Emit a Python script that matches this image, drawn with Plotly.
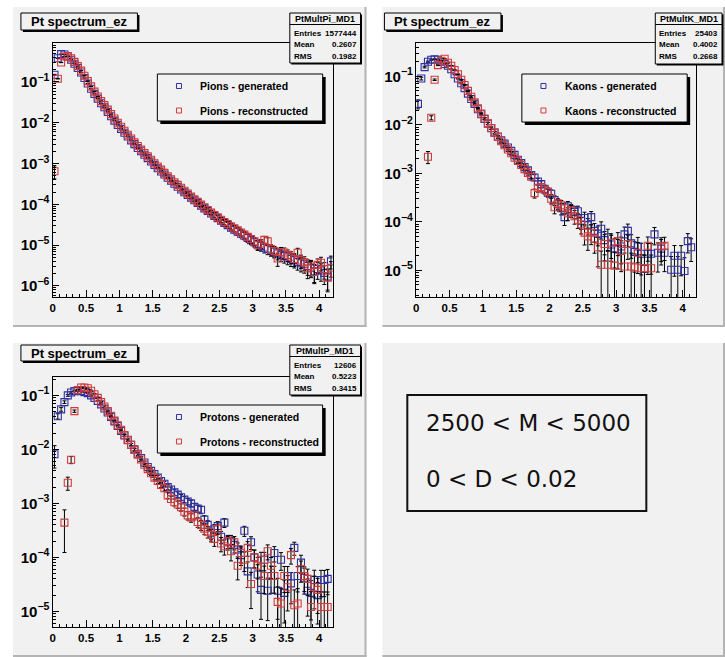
import plotly.graph_objects as go

W, H = 725, 657

# ---------------- data ----------------
BIN_LOW, BIN_WIDTH, N_BINS = 0.0, 0.05, 84
pt = [round(BIN_LOW + BIN_WIDTH * (i + 0.5), 4) for i in range(N_BINS)]

pions_gen = [0.15, 0.38, 0.48, 0.47, 0.42, 0.35, 0.28, 0.22, 0.17, 0.125,
             0.092, 0.068, 0.051, 0.039, 0.030, 0.024, 0.0185, 0.0145, 0.0113, 0.0089,
             0.0071, 0.0057, 0.0046, 0.0037, 0.0030, 0.0024, 0.0020, 0.00165, 0.00136, 0.00112,
             0.00093, 0.00077, 0.00064, 0.00054, 0.00045, 0.00038, 0.00032, 0.00027, 0.000232, 0.000198,
             0.000170, 0.000146, 0.000126, 0.000108, 0.000093, 0.000080, 0.000069, 0.000060, 0.000052, 0.000046,
             0.000040, 0.000035, 0.000031, 0.000027, 0.000024, 0.0000215, 0.0000190, 0.0000170, 0.0000150, 0.0000133,
             0.0000118, 0.0000106, 0.0000096, 0.0000088, 0.0000081, 0.0000075, 0.0000069, 0.0000063, 0.0000058, 0.0000054,
             0.0000050, 0.0000046, 0.0000043, 0.0000039, 0.0000036, 0.0000034, 0.0000031, 0.0000028, 0.0000023, 0.0000026,
             0.0000024, 0.0000021, 0.0000017, 0.0000040]
pions_rec = [0.00065, 0.12, 0.30, 0.42, 0.43, 0.38, 0.31, 0.245, 0.19, 0.142,
             0.105, 0.078, 0.058, 0.044, 0.034, 0.027, 0.021, 0.0163, 0.0127, 0.0100,
             0.0080, 0.0064, 0.0051, 0.0041, 0.0033, 0.0027, 0.0022, 0.00182, 0.00150, 0.00124,
             0.00102, 0.00085, 0.00071, 0.00059, 0.00049, 0.00041, 0.00035, 0.00030, 0.000255, 0.000215,
             0.000183, 0.000156, 0.000133, 0.000115, 0.000099, 0.000085, 0.000073, 0.000063, 0.000055, 0.000048,
             0.000042, 0.000037, 0.000033, 0.000029, 0.000026, 0.000023, 0.0000205, 0.0000182, 0.0000160, 0.0000142,
             0.0000125, 0.0000100, 0.0000110, 0.0000135, 0.0000125, 0.0000080, 0.0000072, 0.0000047, 0.0000068, 0.0000066,
             0.0000058, 0.0000052, 0.0000046, 0.0000065, 0.0000042, 0.0000038, 0.0000027, 0.0000030, 0.0000022, 0.0000033,
             0.0000037, 0.0000026, 0.0000016, 0.0000028]

kaons_gen = [0.027, 0.09, 0.155, 0.20, 0.22, 0.225, 0.22, 0.20, 0.18, 0.165,
             0.14, 0.11, 0.09, 0.072, 0.057, 0.044, 0.034, 0.027, 0.021, 0.0165,
             0.0132, 0.0106, 0.0085, 0.0069, 0.0057, 0.0048, 0.0041, 0.0034, 0.0029, 0.0024,
             0.0019, 0.00162, 0.00135, 0.00115, 0.00092, 0.00082, 0.00068, 0.00060, 0.00048, 0.00040,
             0.00038, 0.00028, 0.00023, 0.00019, 0.000125, 0.00021, 0.00018, 0.00016, 0.000165, 0.000105,
             0.00012, 0.000085, 0.000125, 0.000065, 0.000057, 0.000072, 0.000042, 0.000048, 0.000034, 0.000028,
             0.000027, 0.000031, 0.000055, 0.000065, 0.000036, 0.000024, 0.000031, 0.000022, 0.0000107, 0.000022,
             0.000022, 0.000055, 0.000023, 0.000028, 0.000023, None, 0.0000103, 0.00002, 0.0000103, 0.00002,
             0.0000097, 0.00004, 0.00003, None]
kaons_rec = [None, None, None, 0.0022, 0.014, 0.085, 0.17, 0.21, 0.23, 0.19,
             0.165, 0.135, 0.11, 0.085, 0.066, 0.05, 0.038, 0.029, 0.022, 0.017,
             0.0135, 0.0107, 0.0086, 0.0069, 0.0056, 0.0046, 0.0038, 0.0031, 0.0026, 0.0021,
             0.0018, 0.00148, 0.00122, 0.00102, 0.00085, 0.00039, 0.00050, 0.00052, 0.00046, 0.00042,
             0.00030, 0.00020, 0.00024, 0.00022, 0.00019, 0.00015, 0.00017, 0.00013, 0.00011, 0.000089,
             0.00006, 0.00005, 0.00006, 0.000045, 0.00003, 0.000013, 0.000035, 0.000013, 0.000037, 0.0000125,
             0.00004, 0.000025, 0.000012, 0.000035, 0.000012, 0.0000115, 0.000023, 0.000011, 0.000011, 0.000032,
             0.000011, None, None, 0.000031, 0.000032, None, None, None, None, None,
             None, None, None, None]

protons_gen = [0.0081, 0.041, 0.055, 0.075, 0.10, 0.113, 0.12, 0.124, 0.12, 0.115,
               0.11, 0.10, 0.09, 0.079, 0.068, 0.057, 0.048, 0.040, 0.033, 0.027,
               0.022, 0.018, 0.0148, 0.0122, 0.0100, 0.0083, 0.0069, 0.0057, 0.0047, 0.0040,
               0.0035, 0.0030, 0.0026, 0.0023, 0.0020, 0.0018, 0.0016, 0.00145, 0.0013, 0.00118,
               0.00108, 0.0010, 0.00086, 0.00080, 0.00076, 0.00050, 0.00040, 0.00028, 0.00033, 0.00038,
               0.00024, 0.00044, 0.00019, 0.00020, 0.00017, 0.00014, 0.00011, 0.00031, 0.000055, 0.00019,
               0.00010, 0.000048, 0.000025, 0.00009, 0.000024, 0.000045, 0.00012, 0.000024, 0.00009, 0.000022,
               0.000045, 0.000033, 0.00015, 0.000045, 0.00008, 0.000042, 0.000024, 0.000022, 0.000038, 0.00002,
               0.000038, 0.000038, 0.00004, None]
protons_rec = [None, None, None, 0.00044, 0.0024, 0.0064, 0.051, 0.125, 0.14, 0.14,
               0.135, 0.122, 0.105, 0.090, 0.075, 0.062, 0.051, 0.042, 0.034, 0.028,
               0.023, 0.0185, 0.015, 0.0122, 0.0098, 0.0080, 0.0065, 0.0052, 0.0043, 0.0036,
               0.0030, 0.0026, 0.0022, 0.0019, 0.0014, 0.0012, 0.00105, 0.00095, 0.00085, 0.00070,
               0.00060, 0.00055, 0.00060, 0.00045, 0.00040, 0.00034, 0.00030, 0.00026, 0.00022, 0.00034,
               0.00018, 0.00016, 0.00020, 0.00013, 0.00019, 0.00007, 0.00012, 0.00009, 0.00015, 0.000032,
               0.00010, 0.00007, 0.00009, 0.000045, 0.00013, 0.00007, 0.000045, 0.000015, 0.000014, 0.000045,
               0.000028, 0.00011, 0.000013, 0.000014, 0.00006, 0.000045, 0.00004, 0.000012, 0.000028, 0.000025,
               0.000012, 0.000012, 0.000012, None]

# per-count weight (1/pt weighted histograms) -> statistical errors
count_weight = {"pions": 2e-6, "kaons": 3e-5, "protons": 4e-5}

panels = [
    dict(key="pions", name="Pions", gen=pions_gen, rec=pions_rec,
         stats=("PtMultPi_MD1", "1577444", "0.2607", "0.1982")),
    dict(key="kaons", name="Kaons", gen=kaons_gen, rec=kaons_rec,
         stats=("PtMultK_MD1", "25403", "0.4002", "0.2668")),
    dict(key="protons", name="Protons", gen=protons_gen, rec=protons_rec,
         stats=("PtMultP_MD1", "12606", "0.5223", "0.3415")),
]
title_text = "Pt spectrum_ez"
cut_lines = ["2500 &lt; M &lt; 5000", "0 &lt; D &lt; 0.02"]

# ---------------- layout geometry (pixels) ----------------
frames = [  # x0, x1, y0(top), y1(bottom), log y range
    (50, 331, 43, 297, [-6.27, -0.045]),
    (415, 696, 43, 297, [-5.55, -0.313]),
    (50, 331, 377, 627, [-5.29, -0.66]),
]
pads = [(10, 365, 7, 327), (381, 725, 7, 327), (10, 365, 343, 657), (381, 725, 343, 657)]
titles = [(18, 135, 13, 30), (383, 500, 13, 30), (18, 135, 345, 361)]
statboxes = [(288, 359, 13, 63), (655, 722, 13, 64), (288, 359, 345, 395)]
legends = [(155, 321, 74, 121), (521, 687, 74, 122), (155, 321, 405, 453)]

BLUE = "#2f2fa6"
RED = "#d23a3a"
PADC = "#f1f1f1"
FONT = "Liberation Sans"


def px(x):
    return x / W


def py(y):
    return 1 - y / H


def errs(vals, c):
    return [0 if v is None else (v * c / x) ** 0.5 for v, x in zip(vals, pt)]


fig = go.Figure()
shapes = []
ann = []

# pads
for (x0, x1, y0, y1) in pads:
    shapes.append(dict(type="rect", xref="paper", yref="paper", x0=px(x0), x1=px(x1), y0=py(y1), y1=py(y0),
                       fillcolor=PADC, line=dict(width=0), layer="below"))
    shapes.append(dict(type="line", xref="paper", yref="paper", x0=px(x1 - 1), x1=px(x1 - 1), y0=py(y1), y1=py(y0),
                       line=dict(color="#b4b4b4", width=2), layer="below"))
    shapes.append(dict(type="line", xref="paper", yref="paper", x0=px(x0), x1=px(x1), y0=py(y1 - 1), y1=py(y1 - 1),
                       line=dict(color="#b4b4b4", width=2), layer="below"))

layout_axes = {}
for i, (p, fr) in enumerate(zip(panels, frames)):
    x0, x1, y0, y1, yr = fr
    n = "" if i == 0 else str(i + 1)
    xa, ya = "x" + n, "y" + n
    c = count_weight[p["key"]]
    for vals, col, lab in ((p["gen"], BLUE, "generated"), (p["rec"], RED, "reconstructed")):
        fig.add_trace(go.Scatter(
            x=pt, y=vals, mode="markers", xaxis=xa, yaxis=ya, showlegend=False,
            name=f"{p['name']} - {lab}",
            marker=dict(symbol="square-open", size=7, color=col, line=dict(width=1.1, color=col)),
            error_y=dict(type="data", array=errs(vals, c), visible=True, color="black", thickness=1, width=2),
        ))
    layout_axes["xaxis" + n] = dict(
        domain=[px(x0), px(x1)], anchor=ya, range=[0, 4.2], tick0=0, dtick=0.5,
        showgrid=False, zeroline=False, showline=True, linecolor="black", linewidth=1, mirror=True,
        ticks="inside", ticklen=7, tickcolor="black", tickwidth=1,
        minor=dict(ticks="inside", ticklen=3.5, dtick=0.1, tickcolor="black", showgrid=False),
        tickfont=dict(family=FONT, size=11.5, color="black", weight="bold"),
    )
    layout_axes["yaxis" + n] = dict(
        domain=[py(y1), py(y0)], anchor=xa, type="log", range=yr, dtick=1, exponentformat="power",
        showgrid=False, zeroline=False, showline=True, linecolor="black", linewidth=1, mirror=True,
        ticks="inside", ticklen=6, tickcolor="black", tickwidth=1,
        minor=dict(ticks="inside", ticklen=3, dtick="D1", tickcolor="black", showgrid=False),
        tickfont=dict(family=FONT, size=12, color="black", weight="bold"),
    )

    # title box
    tx0, tx1, ty0, ty1 = titles[i]
    shapes.append(dict(type="rect", xref="paper", yref="paper", x0=px(tx0 + 2), x1=px(tx1 + 2),
                       y0=py(ty1 + 2), y1=py(ty0 + 2), fillcolor="black", line=dict(width=0)))
    shapes.append(dict(type="rect", xref="paper", yref="paper", x0=px(tx0), x1=px(tx1), y0=py(ty1), y1=py(ty0),
                       fillcolor=PADC, line=dict(color="black", width=1)))
    ann.append(dict(xref="paper", yref="paper", x=px((tx0 + tx1) / 2), y=py((ty0 + ty1) / 2),
                    text="<b>" + title_text + "</b>", showarrow=False, xanchor="center", yanchor="middle",
                    font=dict(family=FONT, size=13, color="black")))

    # stats box
    sx0, sx1, sy0, sy1 = statboxes[i]
    shapes.append(dict(type="rect", xref="paper", yref="paper", x0=px(sx0 + 1.5), x1=px(sx1 + 1.5),
                       y0=py(sy1 + 1.5), y1=py(sy0 + 1.5), fillcolor="black", line=dict(width=0)))
    shapes.append(dict(type="rect", xref="paper", yref="paper", x0=px(sx0), x1=px(sx1), y0=py(sy1), y1=py(sy0),
                       fillcolor=PADC, line=dict(color="black", width=1)))
    shapes.append(dict(type="line", xref="paper", yref="paper", x0=px(sx0), x1=px(sx1),
                       y0=py(sy0 + 11.5), y1=py(sy0 + 11.5), line=dict(color="black", width=1)))
    hname, entries, mean, rms = p["stats"]
    ann.append(dict(xref="paper", yref="paper", x=px((sx0 + sx1) / 2), y=py(sy0 + 6),
                    text="<b>" + hname + "</b>", showarrow=False, xanchor="center", yanchor="middle",
                    font=dict(family=FONT, size=9, color="black")))
    for k, (lab, val) in enumerate((("Entries", entries), ("Mean", mean), ("RMS", rms))):
        yy = sy0 + 20 + k * 11.7
        ann.append(dict(xref="paper", yref="paper", x=px(sx0 + 2), y=py(yy), text="<b>" + lab + "</b>",
                        showarrow=False, xanchor="left", yanchor="middle",
                        font=dict(family=FONT, size=8, color="black")))
        ann.append(dict(xref="paper", yref="paper", x=px(sx1 - 2), y=py(yy), text="<b>" + val + "</b>",
                        showarrow=False, xanchor="right", yanchor="middle",
                        font=dict(family=FONT, size=8, color="black")))

    # legend box
    lx0, lx1, ly0, ly1 = legends[i]
    shapes.append(dict(type="rect", xref="paper", yref="paper", x0=px(lx0 + 3), x1=px(lx1 + 3),
                       y0=py(ly1 + 3), y1=py(ly0 + 3), fillcolor="black", line=dict(width=0)))
    shapes.append(dict(type="rect", xref="paper", yref="paper", x0=px(lx0), x1=px(lx1), y0=py(ly1), y1=py(ly0),
                       fillcolor=PADC, line=dict(color="black", width=1)))
    for k, (col, lab) in enumerate(((BLUE, "generated"), (RED, "reconstructed"))):
        yy = ly0 + 12 + k * 24.5
        mx = lx0 + 21.7
        shapes.append(dict(type="rect", xref="paper", yref="paper", x0=px(mx - 2.5), x1=px(mx + 2.5),
                           y0=py(yy + 2.5), y1=py(yy - 2.5), fillcolor="rgba(0,0,0,0)",
                           line=dict(color=col, width=1)))
        ann.append(dict(xref="paper", yref="paper", x=px(lx0 + 41), y=py(yy),
                        text="<b>" + p["name"] + " - " + lab + "</b>", showarrow=False,
                        xanchor="left", yanchor="middle", font=dict(family=FONT, size=10.5, color="black")))

# cut text box in the fourth pad
shapes.append(dict(type="rect", xref="paper", yref="paper", x0=px(406), x1=px(646), y0=py(511), y1=py(395),
                   fillcolor="rgba(0,0,0,0)", line=dict(color="#111111", width=2)))
for k, line in enumerate(cut_lines):
    ann.append(dict(xref="paper", yref="paper", x=px(423), y=py(423 + k * 56), text=line, showarrow=False,
                    xanchor="left", yanchor="middle", font=dict(family="DejaVu Sans", size=23, color="#111111")))

fig.update_layout(
    width=W, height=H, margin=dict(l=0, r=0, t=0, b=0), autosize=False,
    paper_bgcolor="white", plot_bgcolor=PADC, showlegend=False,
    shapes=shapes, annotations=ann, **layout_axes,
)

fig.write_html("out.html")
